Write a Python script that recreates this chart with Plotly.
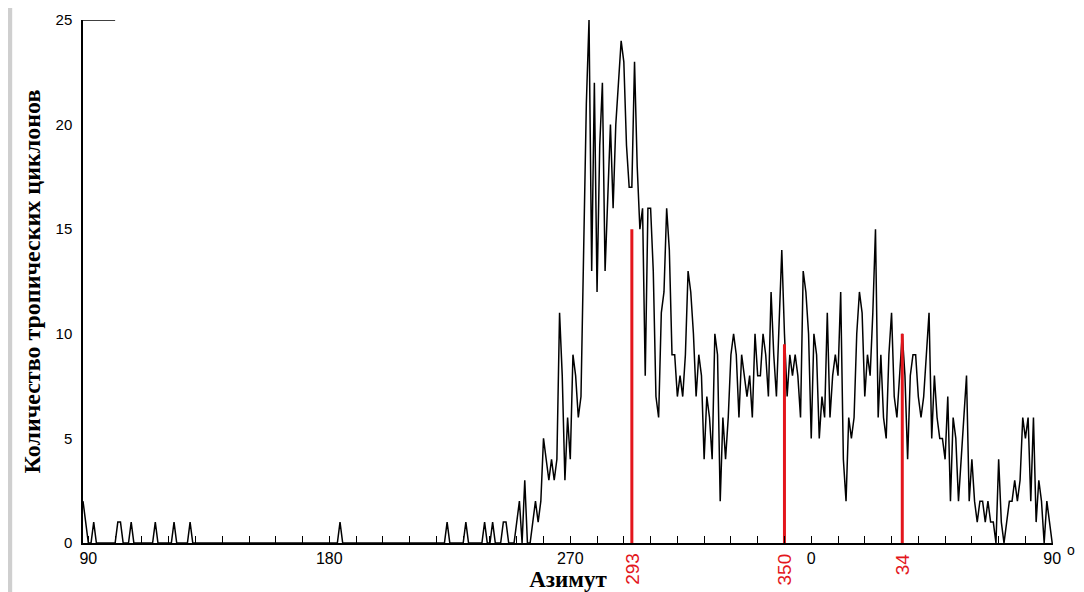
import plotly.graph_objects as go

# ---- data ----
azimuth_start = 88
counts = [
    # 88-99
    2, 1, 0, 0, 1, 0, 0, 0, 0, 0, 0, 0,
    # 100-129
    0, 1, 1, 0, 0, 0, 1, 0, 0, 0, 0, 0, 0, 0, 0, 1, 0, 0, 0, 0,
    0, 0, 1, 0, 0, 0, 0, 0, 1, 0,
    # 130-179
    0, 0, 0, 0, 0, 0, 0, 0, 0, 0, 0, 0, 0, 0, 0, 0, 0, 0, 0, 0,
    0, 0, 0, 0, 0, 0, 0, 0, 0, 0, 0, 0, 0, 0, 0, 0, 0, 0, 0, 0,
    0, 0, 0, 0, 0, 0, 0, 0, 0, 0,
    # 180-219
    0, 0, 0, 0, 1, 0, 0, 0, 0, 0, 0, 0, 0, 0, 0, 0, 0, 0, 0, 0,
    0, 0, 0, 0, 0, 0, 0, 0, 0, 0, 0, 0, 0, 0, 0, 0, 0, 0, 0, 0,
    # 220-249
    0, 0, 0, 0, 1, 0, 0, 0, 0, 0, 0, 1, 0, 0, 0, 0, 0, 0, 1, 0,
    0, 1, 0, 0, 0, 1, 1, 0, 0, 0,
    # 250-275
    1, 2, 0, 3, 0, 0, 1, 2, 1, 2, 5, 4, 3, 4, 3, 4, 11, 8, 3, 6,
    4, 9, 8, 6, 7, 14,
    # 276-310
    21, 25, 13, 22, 12, 19, 22, 13, 17, 20, 16, 20, 22, 24, 23, 19, 17, 17, 23, 18,
    15, 16, 8, 16, 16, 13, 7, 6, 11, 12, 16, 14, 9, 9, 7,
    # 311-350
    8, 7, 9, 13, 12, 10, 7, 9, 8, 4, 7, 6, 4, 10, 9, 2, 6, 4, 6, 9,
    10, 9, 6, 9, 8, 7, 8, 6, 10, 8, 8, 10, 9, 7, 12, 9, 7, 11, 14, 10,
    # 351-390
    7, 9, 8, 9, 8, 6, 13, 12, 10, 5, 10, 9, 5, 7, 6, 11, 6, 8, 9, 8,
    12, 4, 2, 6, 5, 6, 10, 12, 11, 7, 9, 8, 11, 15, 6, 9, 6, 5, 9, 11,
    # 391-430
    7, 6, 8, 10, 8, 4, 8, 9, 9, 7, 6, 7, 9, 11, 5, 8, 6, 5, 5, 4,
    7, 2, 6, 5, 2, 4, 6, 8, 2, 4, 2, 1, 2, 2, 1, 2, 1, 1, 0, 4,
    # 431-450
    1, 0, 1, 2, 2, 3, 2, 3, 6, 5, 6, 2, 6, 1, 3, 2, 0, 2, 1, 0,
]
azimuth = list(range(azimuth_start, azimuth_start + len(counts)))

marker_az = [293, 350, 394]
marker_height = [15, 9.5, 10]
marker_labels = ["293", "350", "34"]

tick_vals = list(range(90, 451, 10))
labelled = {90: "90", 180: "180", 270: "270", 360: "0", 450: "90"}
tick_text = [labelled.get(v, "") for v in tick_vals]

y_ticks = [0, 5, 10, 15, 20, 25]

RED = "#e3161c"

fig = go.Figure()

fig.add_trace(go.Scatter(
    x=azimuth, y=counts, mode="lines",
    line=dict(color="black", width=1.5),
    showlegend=False, hoverinfo="x+y", cliponaxis=False,
))

for az, h in zip(marker_az, marker_height):
    fig.add_trace(go.Scatter(
        x=[az, az], y=[0, h], mode="lines",
        line=dict(color=RED, width=3),
        showlegend=False, hoverinfo="skip",
    ))

for az, lab in zip(marker_az, marker_labels):
    fig.add_annotation(
        x=az, y=0, xref="x", yref="y", text=lab, showarrow=False,
        textangle=-90, yanchor="top", yshift=-8,
        font=dict(family="Liberation Sans, Arial", size=19, color=RED),
    )

# degree sign after the last tick label
fig.add_annotation(
    x=1, y=0, xref="paper", yref="y", text="o", showarrow=False,
    xanchor="left", yanchor="top", xshift=12, yshift=3,
    font=dict(family="Liberation Sans, Arial", size=14, color="black"),
)

# short top line at y = 25
fig.add_shape(type="line", xref="x", yref="y",
              x0=azimuth_start, x1=azimuth_start + 12, y0=y_ticks[-1], y1=y_ticks[-1],
              line=dict(color="black", width=1.5))

# grey strip at left edge
fig.add_shape(type="rect", xref="paper", yref="paper",
              x0=-0.078, x1=-0.073, y0=-0.2, y1=1.1,
              fillcolor="#cfcfcf", line=dict(width=0), layer="below")

fig.update_layout(
    width=1076, height=584,
    margin=dict(l=75, r=31, t=12, b=49),
    paper_bgcolor="white", plot_bgcolor="white",
    font=dict(family="Liberation Sans, Arial", color="black"),
    xaxis=dict(
        range=[azimuth_start, 450.3], automargin=False,
        tickmode="array", tickvals=tick_vals, ticktext=tick_text,
        ticks="inside", ticklen=7, tickwidth=1, tickcolor="black",
        showline=True, linecolor="black", linewidth=1.5,
        showgrid=False, zeroline=False,
        tickfont=dict(size=16, family="Liberation Sans, Arial"),
        title=dict(text="<b>Азимут</b>", standoff=0,
                   font=dict(family="Liberation Serif, Times New Roman", size=23)),
    ),
    yaxis=dict(
        range=[0, 25], tickmode="array", tickvals=y_ticks, automargin=False,
        ticks="", showline=True, linecolor="black", linewidth=1.5,
        showgrid=False, zeroline=False,
        tickfont=dict(size=15, family="Liberation Sans, Arial"),
        ticklabelstandoff=6,
        title=dict(text="<b>Количество тропических циклонов</b>", standoff=8,
                   font=dict(family="Liberation Serif, Times New Roman", size=24)),
    ),
)

fig.write_html("out.html")
